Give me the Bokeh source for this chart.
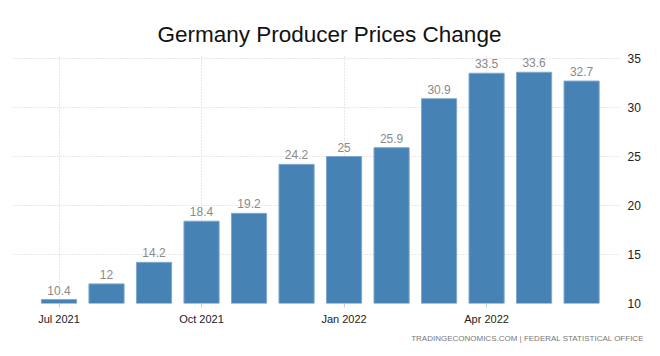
from bokeh.plotting import figure
from bokeh.models import Range1d, FixedTicker, Title, ColumnDataSource, LabelSet
from bokeh.core.properties import value
from bokeh.embed import file_html
from bokeh.resources import INLINE

months = ["Jul 2021", "Aug 2021", "Sep 2021", "Oct 2021", "Nov 2021", "Dec 2021",
          "Jan 2022", "Feb 2022", "Mar 2022", "Apr 2022", "May 2022", "Jun 2022"]
values = [10.4, 12, 14.2, 18.4, 19.2, 24.2, 25, 25.9, 30.9, 33.5, 33.6, 32.7]
tick_idx = [0, 3, 6, 9]
y_ticks = [10, 15, 20, 25, 30, 35]

FONT = "Liberation Sans"

xs = list(range(len(values)))
src = ColumnDataSource(dict(x=xs, top=values, lab=[f"{v:g}" for v in values]))

p = figure(frame_width=609, frame_height=248, output_backend="svg", toolbar_location=None,
           x_range=Range1d(-0.979, 11.84), y_range=Range1d(10, 35.31),
           y_axis_location="right", min_border_left=12, min_border_right=0,
           min_border_top=55, min_border_bottom=0)
p.outline_line_color = None
p.background_fill_color = "white"

p.title.text = "Germany Producer Prices Change"
p.title.text_font = FONT
p.title.text_font_size = "22.5px"
p.title.text_font_style = "normal"
p.title.text_color = "#111111"
p.title.align = "left"
p.title.offset = 145
p.title.standoff = 17

p.vbar(x="x", top="top", bottom=0, width=0.74, source=src,
       fill_color="#4682B4", line_color="#7FA8CC", line_width=1)

labels = LabelSet(x="x", y="top", text="lab", source=src, text_align="center",
                  text_baseline="bottom", y_offset=5, text_font=value(FONT),
                  text_font_size=value("12px"), text_color=value("#8a8a8a"))
p.add_layout(labels)

# x axis
xa = p.xaxis[0]
xa.ticker = FixedTicker(ticks=tick_idx)
xa.major_label_overrides = {i: months[i] for i in tick_idx}
xa.axis_line_color = None
xa.major_tick_line_color = "#cccccc"
xa.major_tick_out = 4
xa.major_tick_in = 0
xa.minor_tick_line_color = None
xa.major_label_text_font = FONT
xa.major_label_text_font_size = "11px"
xa.major_label_text_color = "#222222"
xa.major_label_standoff = 5

# y axis
ya = p.yaxis[0]
ya.ticker = FixedTicker(ticks=y_ticks)
ya.axis_line_color = None
ya.major_tick_line_color = None
ya.minor_tick_line_color = None
ya.major_label_text_font = FONT
ya.major_label_text_font_size = "12px"
ya.major_label_text_color = "#222222"
ya.major_label_standoff = 0

p.xgrid.ticker = FixedTicker(ticks=tick_idx)
p.xgrid.grid_line_color = "#d0d0d0"
p.xgrid.grid_line_dash = "1 2"
p.ygrid.ticker = FixedTicker(ticks=y_ticks)
p.ygrid.grid_line_color = "#d0d0d0"
p.ygrid.grid_line_dash = "1 2"

footer = Title(text="TRADINGECONOMICS.COM  |  FEDERAL STATISTICAL OFFICE", align="right",
               text_font=FONT, text_font_size="8px", text_font_style="normal",
               text_color="#777777", standoff=9, offset=-27)
p.add_layout(footer, "below")

open("out.html", "w").write(file_html(p, INLINE))
